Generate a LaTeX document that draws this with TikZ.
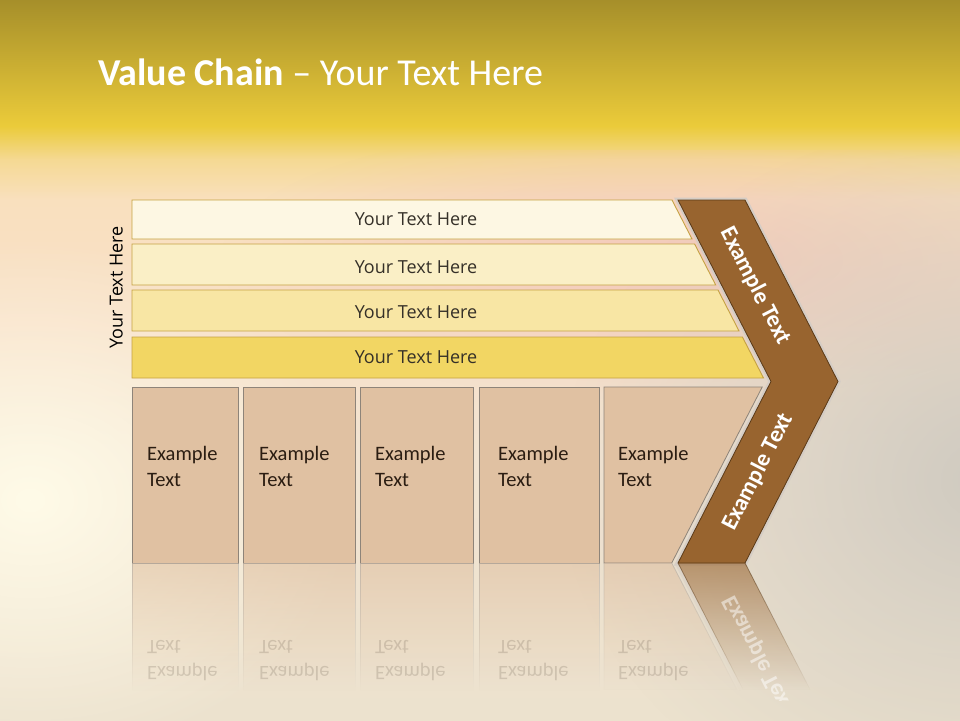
\documentclass[tikz,border=0pt]{standalone}
\usepackage{fontspec}
\setmainfont{Carlito}
\newfontfamily\bodyfont{Open Sans}
\usetikzlibrary{fadings}

\definecolor{glowc}{HTML}{FFFBE8}
\definecolor{grayc}{HTML}{CFCAC0}
\definecolor{pinkc}{HTML}{F2C6BA}
\definecolor{barA}{HTML}{FDF7E3}
\definecolor{barB}{HTML}{FAEFC6}
\definecolor{barC}{HTML}{F8E6A4}
\definecolor{barD}{HTML}{F2D663}
\definecolor{barline}{HTML}{C5A243}
\definecolor{boxfill}{HTML}{E0C1A2}
\definecolor{boxline}{HTML}{8E8479}
\definecolor{chev}{HTML}{98642F}
\definecolor{chevline}{HTML}{5A3A18}
\definecolor{halo}{HTML}{D5CDC5}
\definecolor{bartxt}{HTML}{353028}
\definecolor{boxtxt}{HTML}{2B1D12}

\pgfdeclareverticalshading{bgvert}{100bp}{%
  color(0bp)=(rgb,255:red,236;green,226;blue,206);
  color(25bp)=(rgb,255:red,236;green,226;blue,206);
  color(43.75bp)=(rgb,255:red,242;green,228;blue,210);
  color(52.8bp)=(rgb,255:red,248;green,224;blue,200);
  color(61.1bp)=(rgb,255:red,249;green,224;blue,190);
  color(63.9bp)=(rgb,255:red,245;green,217;blue,148);
  color(65.4bp)=(rgb,255:red,238;green,208;blue,90);
  color(66.25bp)=(rgb,255:red,235;green,203;blue,58);
  color(75bp)=(rgb,255:red,166;green,143;blue,42);
  color(100bp)=(rgb,255:red,166;green,143;blue,42)}

\tikzfading[name=reflfade, top color=transparent!40, bottom color=transparent!100]
\tikzfading[name=glowfade, inner color=transparent!0, outer color=transparent!100]

\begin{document}
\begin{tikzpicture}[x=1pt,y=-1pt,
  barshape/.style={draw=barline, line width=0.9pt},
  boxshape/.style={draw=boxline, fill=boxfill, line width=0.8pt},
  chevshape/.style={draw=chevline, fill=chev, line width=0.8pt},
  haloshape/.style={draw=halo, line width=5pt, line join=miter},
  bartext/.style={font=\bodyfont\fontsize{18}{22}\selectfont, text=bartxt, anchor=base, inner sep=0pt},
  sidetext/.style={font=\bodyfont\fontsize{18}{22}\selectfont, text=black, anchor=base, inner sep=0pt, rotate=90},
  boxtext/.style={font=\fontsize{20.5}{26}\selectfont, text=boxtxt, align=left, anchor=base west, inner sep=0pt},
  chevtext/.style={font=\bfseries\fontsize{23.5}{26}\selectfont, text=white, inner sep=0pt},
  titletext/.style={font=\fontsize{38}{42}\selectfont, text=white, anchor=base west, inner sep=0pt},
  reflbox/.style={fill=boxfill, draw=boxline!70, line width=0.8pt, path fading=reflfade}
]
\useasboundingbox (0,0) rectangle (960,720);

% ---------- background ----------
\shade[shading=bgvert] (0,0) rectangle (960,720);
\begin{scope}
\clip (0,150) rectangle (960,720);
\fill[pinkc, path fading=glowfade, opacity=0.85] (660,260) ellipse [x radius=440, y radius=140];
\fill[grayc, path fading=glowfade] (990,480) ellipse [x radius=430, y radius=360];
\fill[glowc, path fading=glowfade] (30,500) ellipse [x radius=330, y radius=260];
\end{scope}

% ---------- title ----------
\node[titletext] (title) at (98,85) {\textbf{Value Chain} – Your Text Here};

% ---------- bars ----------
\filldraw[barshape, fill=barA] (132,200) -- (672,200) -- (692,239) -- (132,239) -- cycle;
\filldraw[barshape, fill=barB] (132,244) -- (694.6,244) -- (715.7,285) -- (132,285) -- cycle;
\filldraw[barshape, fill=barC] (132,290) -- (718,290) -- (739,331) -- (132,331) -- cycle;
\filldraw[barshape, fill=barD] (132,337) -- (742.4,337) -- (763.5,378) -- (132,378) -- cycle;

\node[bartext] (t1) at (416,225.5) {Your Text Here};
\node[bartext] (t2) at (416,273.3) {Your Text Here};
\node[bartext] (t3) at (416,318.3) {Your Text Here};
\node[bartext] (t4) at (416,363.3) {Your Text Here};

\node[sidetext] (side) at (122.5,287.5) {Your Text Here};

% ---------- boxes ----------
\draw[boxshape] (132,387) rectangle (238,563);
\draw[boxshape] (243,387) rectangle (355,563);
\draw[boxshape] (360,387) rectangle (473,563);
\draw[boxshape] (479,387) rectangle (599,563);
\draw[boxshape] (604,387) -- (762.2,387) -- (671.7,563) -- (604,563) -- cycle;

\node[boxtext] (e1) at (147,486) {Example\\Text};
\node[boxtext] (e2) at (259,486) {Example\\Text};
\node[boxtext] (e3) at (375,486) {Example\\Text};
\node[boxtext] (e4) at (498,486) {Example\\Text};
\node[boxtext] (e5) at (618,486) {Example\\Text};

% ---------- chevron ----------
\draw[haloshape] (678,200) -- (745,200) -- (838,381.5) -- (745,563) -- (678,563) -- (771,381.5) -- cycle;
\filldraw[chevshape] (678,200) -- (745,200) -- (838,381.5) -- (745,563) -- (678,563) -- (771,381.5) -- cycle;
\node[chevtext, rotate=-62.8] (c1) at (755.5,286) {Example Text};
\node[chevtext, rotate=62.8] (c2) at (758,472) {Example Text};

% ---------- reflection ----------
\begin{scope}
\clip (0,563.5) rectangle (960,700);
\filldraw[reflbox] (132,563) rectangle (238,690);
\filldraw[reflbox] (243,563) rectangle (355,690);
\filldraw[reflbox] (360,563) rectangle (473,690);
\filldraw[reflbox] (479,563) rectangle (599,690);
\filldraw[reflbox] (604,563) -- (671.7,563) -- (737,690) -- (604,690) -- cycle;
\draw[halo, line width=3pt, path fading=reflfade] (676,563) -- (741,690);
\filldraw[fill=chev, draw=chevline, line width=0.8pt, path fading=reflfade] (678,563) -- (745,563) -- (810.3,690) -- (743.3,690) -- cycle;
\begin{scope}[shift={(0,563)}, yscale=-1, shift={(0,-563)}, transform shape]
\node[boxtext, text opacity=0.15] (r1) at (147,486) {Example\\Text};
\node[boxtext, text opacity=0.15] (r2) at (259,486) {Example\\Text};
\node[boxtext, text opacity=0.15] (r3) at (375,486) {Example\\Text};
\node[boxtext, text opacity=0.15] (r4) at (498,486) {Example\\Text};
\node[boxtext, text opacity=0.15] (r5) at (618,486) {Example\\Text};
\node[chevtext, rotate=62.8, text opacity=0.5] (rc) at (758,472) {Example Text};
\end{scope}
\end{scope}
\end{tikzpicture}
\end{document}
